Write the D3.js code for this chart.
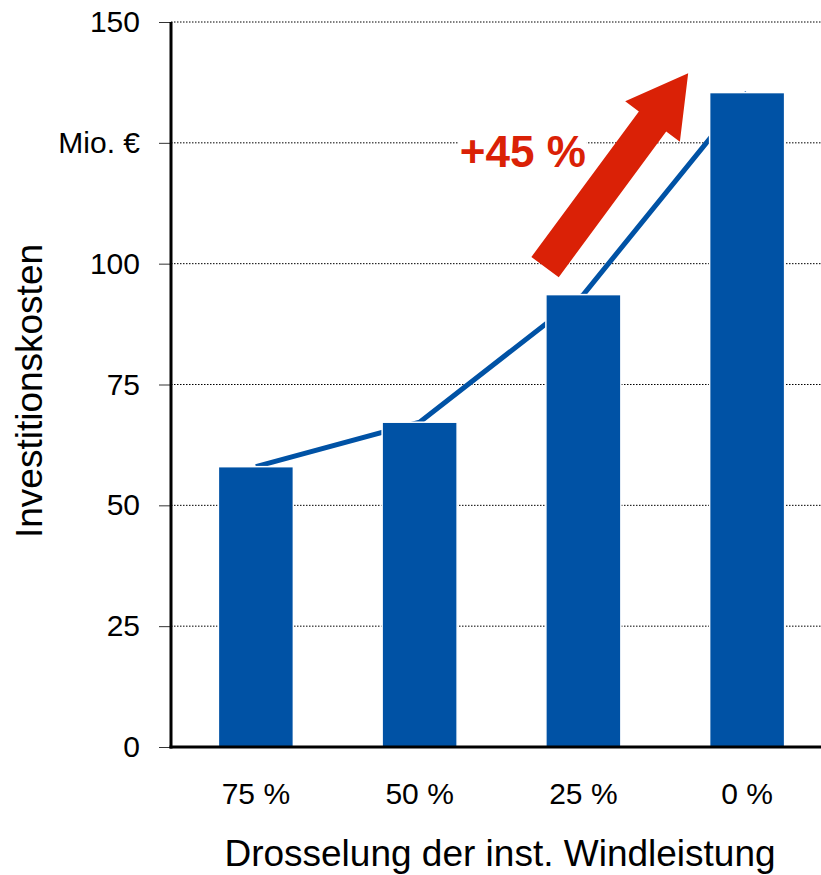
<!DOCTYPE html>
<html>
<head>
<meta charset="utf-8">
<script src="https://cdn.jsdelivr.net/npm/d3@7"></script>
<style>
  html, body { margin: 0; padding: 0; background: #fff; }
  svg { display: block; font-family: "Liberation Sans", Arial, sans-serif; }
</style>
</head>
<body>
<svg id="chart" width="821" height="875"></svg>
<script>
const categories = ["75 %", "50 %", "25 %", "0 %"];
const values = [58.0, 67.2, 93.6, 135.4];
const yTicks = [0, 25, 50, 75, 100, 125, 150];
const yTickLabels = ["0", "25", "50", "75", "100", "Mio. €", "150"];

// annotation: arrow from/to as [category index, value], label position
const arrowFrom = [1.766, 99.3];
const arrowTo = [2.64, 139.4];
const labelPos = [1.63, 120];
const labelText = "+45 %";

const blue = "#0052a5";
const red = "#da2106";

const svg = d3.select("#chart");
const margin = { left: 171, top: 22, bottom: 747, right: 821 };

const y = d3.scaleLinear().domain([0, 150]).range([margin.bottom, margin.top]);
const x = d3.scaleBand()
  .domain(categories)
  .range([174, 829])
  .paddingInner(0.542)
  .paddingOuter(0.271);

// center of category i (fractional allowed)
const xc = i => x(categories[0]) + x.bandwidth() / 2 + i * x.step();

// dotted grid
svg.append("g")
  .selectAll("line")
  .data(yTicks.filter(d => d > 0))
  .enter()
  .append("line")
  .attr("x1", margin.left)
  .attr("x2", margin.right)
  .attr("y1", d => y(d))
  .attr("y2", d => y(d))
  .attr("stroke", "#000")
  .attr("stroke-width", 1)
  .attr("stroke-dasharray", "1.5,1.5");

// connecting line behind bars
const line = d3.line()
  .x((d, i) => xc(i))
  .y(d => y(d));

svg.append("path")
  .datum(values)
  .attr("d", line)
  .attr("fill", "none")
  .attr("stroke", blue)
  .attr("stroke-width", 5);

// bars
svg.append("g")
  .selectAll("rect")
  .data(values)
  .enter()
  .append("rect")
  .attr("x", (d, i) => x(categories[i]))
  .attr("width", x.bandwidth())
  .attr("y", d => y(d))
  .attr("height", d => y(0) - y(d))
  .attr("fill", blue)
  .attr("stroke", "#fff")
  .attr("stroke-width", 1.5);

// y axis
const yAxis = d3.axisLeft(y)
  .tickValues(yTicks)
  .tickFormat((d, i) => yTickLabels[i])
  .tickSize(12)
  .tickPadding(19);

const yg = svg.append("g")
  .attr("transform", `translate(${margin.left},0)`)
  .call(yAxis);
yg.select(".domain").remove();
yg.selectAll(".tick line").attr("stroke", "#333").attr("stroke-width", 1);
yg.selectAll(".tick text")
  .attr("font-size", 30)
  .attr("fill", "#000")
  .attr("font-family", "Liberation Sans, Arial, sans-serif");

svg.append("line")
  .attr("x1", margin.left).attr("x2", margin.left)
  .attr("y1", y(150)).attr("y2", y(0) + 1.5)
  .attr("stroke", "#000").attr("stroke-width", 3);

// x axis line and labels
svg.append("line")
  .attr("x1", margin.left - 1.5).attr("x2", margin.right)
  .attr("y1", y(0)).attr("y2", y(0))
  .attr("stroke", "#000").attr("stroke-width", 3);

svg.append("g")
  .selectAll("text")
  .data(categories)
  .enter()
  .append("text")
  .attr("x", d => x(d) + x.bandwidth() / 2)
  .attr("y", 804)
  .attr("text-anchor", "middle")
  .attr("font-size", 30)
  .text(d => d);

// axis titles
svg.append("text")
  .attr("x", 500)
  .attr("y", 866)
  .attr("text-anchor", "middle")
  .attr("font-size", 37)
  .text("Drosselung der inst. Windleistung");

svg.append("text")
  .attr("transform", "translate(42,391) rotate(-90)")
  .attr("text-anchor", "middle")
  .attr("font-size", 37)
  .text("Investitionskosten");

// red arrow
const p0 = [xc(arrowFrom[0]), y(arrowFrom[1])];
const p1 = [xc(arrowTo[0]), y(arrowTo[1])];
const len = Math.hypot(p1[0] - p0[0], p1[1] - p0[1]);
const ang = Math.atan2(p1[1] - p0[1], p1[0] - p0[0]) * 180 / Math.PI;
const sw = 17, hw = 34, hl = 60;
const arrowPts = [
  [0, -sw], [len - hl, -sw], [len - hl, -hw], [len, 0],
  [len - hl, hw], [len - hl, sw], [0, sw]
];
svg.append("polygon")
  .attr("points", arrowPts.map(p => p.join(",")).join(" "))
  .attr("transform", `translate(${p0[0]},${p0[1]}) rotate(${ang})`)
  .attr("fill", red);

// label with white background
const lbl = svg.append("g");
const lt = lbl.append("text")
  .attr("x", xc(labelPos[0]))
  .attr("y", y(labelPos[1]))
  .attr("text-anchor", "middle")
  .attr("font-size", 44)
  .attr("font-weight", "bold")
  .attr("fill", red)
  .text(labelText);
const bb = lt.node().getBBox();
lbl.insert("rect", "text")
  .attr("x", bb.x - 1)
  .attr("y", bb.y)
  .attr("width", bb.width + 2)
  .attr("height", bb.height)
  .attr("fill", "#fff");
</script>
</body>
</html>
